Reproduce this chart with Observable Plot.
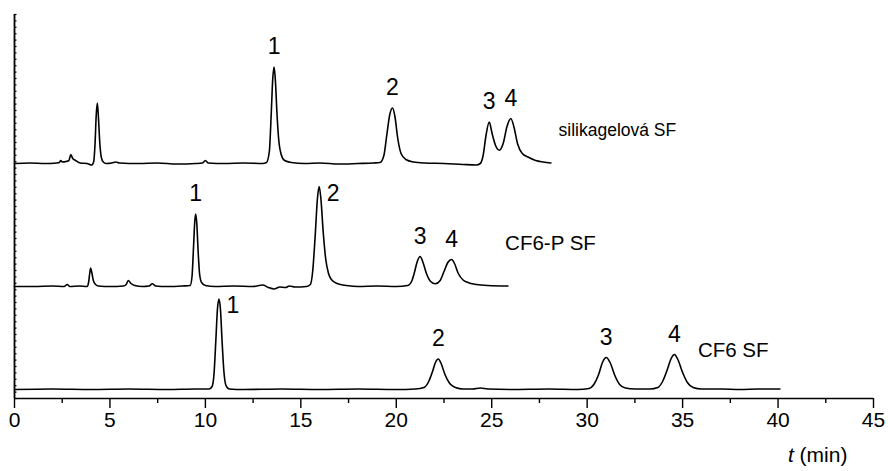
<!DOCTYPE html>
<html><head><meta charset="utf-8">
<script src="https://cdn.jsdelivr.net/npm/d3@7"></script>
<script src="https://cdn.jsdelivr.net/npm/@observablehq/plot@0.6"></script>
<style>
body{margin:0;background:#fff;}
svg{font-family:"Liberation Sans",Arial,Helvetica,sans-serif;}
</style>
</head><body><div id="chart"></div>
<script>
// series names and vertical offsets (signal units) of the stacked chromatograms
const series = ["silikagelová SF", "CF6-P SF", "CF6 SF"];
const offsets = [235, 112, 9];

// chromatogram points [t (min), signal above own baseline]
const silica = [[0,0],[0.8,0.5],[1.6,0],[2.2,0.5],[2.35,1],[2.42,3],[2.5,1.5],[2.7,2],[2.85,3],[2.95,9],[3.05,5],[3.2,3],[3.45,0.5],[3.8,0],[4.05,-1.5],[4.15,2],[4.22,20],[4.28,48],[4.34,60.5],[4.4,45],[4.47,20],[4.55,6],[4.65,1.5],[4.8,0],[5.1,0.5],[5.3,1.5],[5.5,0.5],[6.5,0],[7.5,0.5],[8.5,-0.5],[9.5,0],[9.85,0.5],[10.0,3],[10.15,0.5],[11,0],[12,0.5],[13,0],[13.2,1],[13.35,12],[13.45,50],[13.53,85],[13.6,96.5],[13.67,82],[13.75,50],[13.85,22],[13.97,9],[14.15,3],[14.5,1],[15.2,0],[16,0.5],[17,-0.5],[18,0],[18.8,0.5],[19.15,1],[19.35,8],[19.5,28],[19.65,48],[19.8,55.5],[19.93,47],[20.07,26],[20.25,10],[20.5,4],[20.9,1.5],[21.5,0.5],[22.5,0],[23.5,-1],[24.2,-1.5],[24.4,0],[24.55,8],[24.7,28],[24.87,41.5],[25.02,30],[25.2,18],[25.4,13.3],[25.6,20],[25.8,37],[26.0,45],[26.17,36],[26.35,20],[26.6,10],[26.9,6.5],[27.3,3],[27.7,1.5],[28.1,0.5]];
const cf6p = [[0,0],[1,0],[2,0.5],[2.6,0],[2.76,2],[2.9,0],[3.4,0.5],[3.8,0],[3.88,4],[3.94,13],[3.99,18.5],[4.05,14],[4.13,6],[4.25,2],[4.4,0.5],[5,0],[5.7,0.5],[5.85,2],[5.96,6],[6.1,3],[6.3,1],[6.7,0],[7.05,0.5],[7.22,2.7],[7.4,0.5],[8,0],[8.8,0.5],[9.2,1],[9.3,10],[9.38,40],[9.44,64],[9.49,72.5],[9.55,63],[9.62,35],[9.7,12],[9.8,4],[10,1],[10.5,0],[11.5,0.5],[12.5,0],[13,1.5],[13.3,-1],[13.6,-2.5],[13.9,-0.5],[14.2,-1],[14.4,0.5],[14.7,-0.5],[15.3,0],[15.5,2],[15.62,15],[15.75,50],[15.87,88],[15.96,100],[16.05,88],[16.17,55],[16.3,28],[16.45,13],[16.6,7],[16.9,3],[17.4,1],[18,0],[19,0.5],[20,0],[20.6,1],[20.8,5],[20.95,14],[21.1,25],[21.25,30],[21.4,24],[21.6,12],[21.8,5],[22.05,2.7],[22.3,6],[22.5,15],[22.7,24],[22.9,27],[23.05,23],[23.25,13],[23.5,6.5],[23.75,4],[24.2,2],[24.8,1],[25.85,0.5]];
const cf6 = [[0,0],[2,0.5],[4,0],[6,0.5],[8,0],[9.5,0.5],[10.2,0.5],[10.35,3],[10.45,15],[10.55,50],[10.63,80],[10.71,90.5],[10.79,80],[10.87,50],[10.97,18],[11.08,4],[11.25,0.5],[12,0],[14,0.5],[16,0],[18,0.5],[20,0],[21,0.5],[21.45,2],[21.7,8],[21.9,18],[22.05,27],[22.2,30.5],[22.35,26],[22.55,15],[22.8,6],[23.1,2],[23.5,0.5],[24,0.5],[24.4,1.5],[24.8,0.5],[26,0],[28,0.5],[29.5,0],[30.1,1],[30.35,5],[30.6,15],[30.8,27],[31.0,32],[31.2,27],[31.45,14],[31.7,5],[32,1.5],[32.5,0.5],[33.3,0.5],[33.7,2],[33.95,8],[34.2,20],[34.4,31],[34.57,35],[34.75,30],[35,17],[35.25,7],[35.55,2],[36,0.5],[37,0.5],[38,0],[39,0.5],[40.1,0.5]];
const traces = [silica, cf6p, cf6];

// peak numbers: series index, retention time, peak height, label, placement
const peakSeries = [0,0,0,0, 1,1,1,1, 2,2,2,2];
const peakT      = [13.6,19.8,24.87,26.0, 9.49,15.96,21.25,22.9, 10.71,22.2,31.0,34.57];
const peakH      = [96.5,55.5,41.5,45, 72.5,100,30,27, 90.5,30.5,32,35];
const peakText   = ["1","2","3","4", "1","2","3","4", "1","2","3","4"];
const peakPlace  = ["above","above","above","above", "above","right","above","above", "right","above","above","above"];

// series name labels: position (t, signal above own baseline)
const nameT = [28.5, 25.7, 35.8];
const nameH = [33, 43, 39];
const nameSize = [17.5, 20.5, 20.5];

const xTicks = [0,5,10,15,20,25,30,35,40,45];
const xMinorTicks = [2.5,7.5,12.5,17.5,22.5,27.5,32.5,37.5,42.5];
const yMinorStep = 6.4;

const lineData = series.flatMap((s, i) => traces[i].map(([t, h]) => ({series: s, t, y: h + offsets[i]})));
const peaks = peakT.map((t, i) => ({t, y: peakH[i] + offsets[peakSeries[i]], text: peakText[i], place: peakPlace[i]}));
const names = series.map((s, i) => ({t: nameT[i], y: nameH[i] + offsets[i], text: s, size: nameSize[i]}));
const yTicks = d3.range(0, 384.1, yMinorStep);

const font = '"Liberation Sans",Arial,Helvetica,sans-serif';

const chart = Plot.plot({
  width: 888, height: 471,
  marginLeft: 14, marginRight: 15, marginTop: 14, marginBottom: 73,
  x: {domain: [0, 45], label: null},
  y: {domain: [0, 384], label: null},
  style: {fontFamily: font, fontSize: "20px", color: "#000", background: "#fff", overflow: "visible"},
  marks: [
    Plot.axisX({ticks: xMinorTicks, tickSize: 5, tickFormat: () => "", label: null, strokeWidth: 1.4}),
    Plot.axisX({ticks: xTicks, tickSize: 10, tickPadding: 4, label: null, fontSize: 21, strokeWidth: 1.4}),
    Plot.axisY({ticks: yTicks, tickSize: 2.5, dx: 2.5, tickFormat: () => "", label: null, strokeWidth: 1.2}),
    Plot.ruleY([0], {strokeWidth: 1.6}),
    Plot.ruleX([0], {strokeWidth: 1.8}),
    Plot.line(lineData, {x: "t", y: "y", z: "series", stroke: "#000", strokeWidth: 1.6, curve: "monotone-x"}),
    Plot.text(peaks.filter(d => d.place === "above"), {x: "t", y: "y", text: "text", dy: -20, fontSize: 23, lineAnchor: "middle"}),
    Plot.text(peaks.filter(d => d.place === "right"), {x: "t", y: "y", text: "text", dx: 14, dy: 7, fontSize: 23, lineAnchor: "middle"}),
    Plot.text(names, {x: "t", y: "y", text: "text", textAnchor: "start", fontSize: d => d.size, lineAnchor: "middle"})
  ]
});
document.getElementById("chart").append(chart);

// x-axis title with italic t
const svg = d3.select(chart.tagName === "svg" ? chart : chart.querySelector("svg"));
const xs = chart.scale("x");
const label = svg.append("text")
  .attr("x", xs.apply(42.1)).attr("y", 456)
  .attr("text-anchor", "middle").attr("dominant-baseline", "middle")
  .attr("font-size", 21).attr("font-family", font).attr("fill", "#000");
label.append("tspan").attr("font-style", "italic").text("t");
label.append("tspan").text(" (min)");
</script>
</body></html>
